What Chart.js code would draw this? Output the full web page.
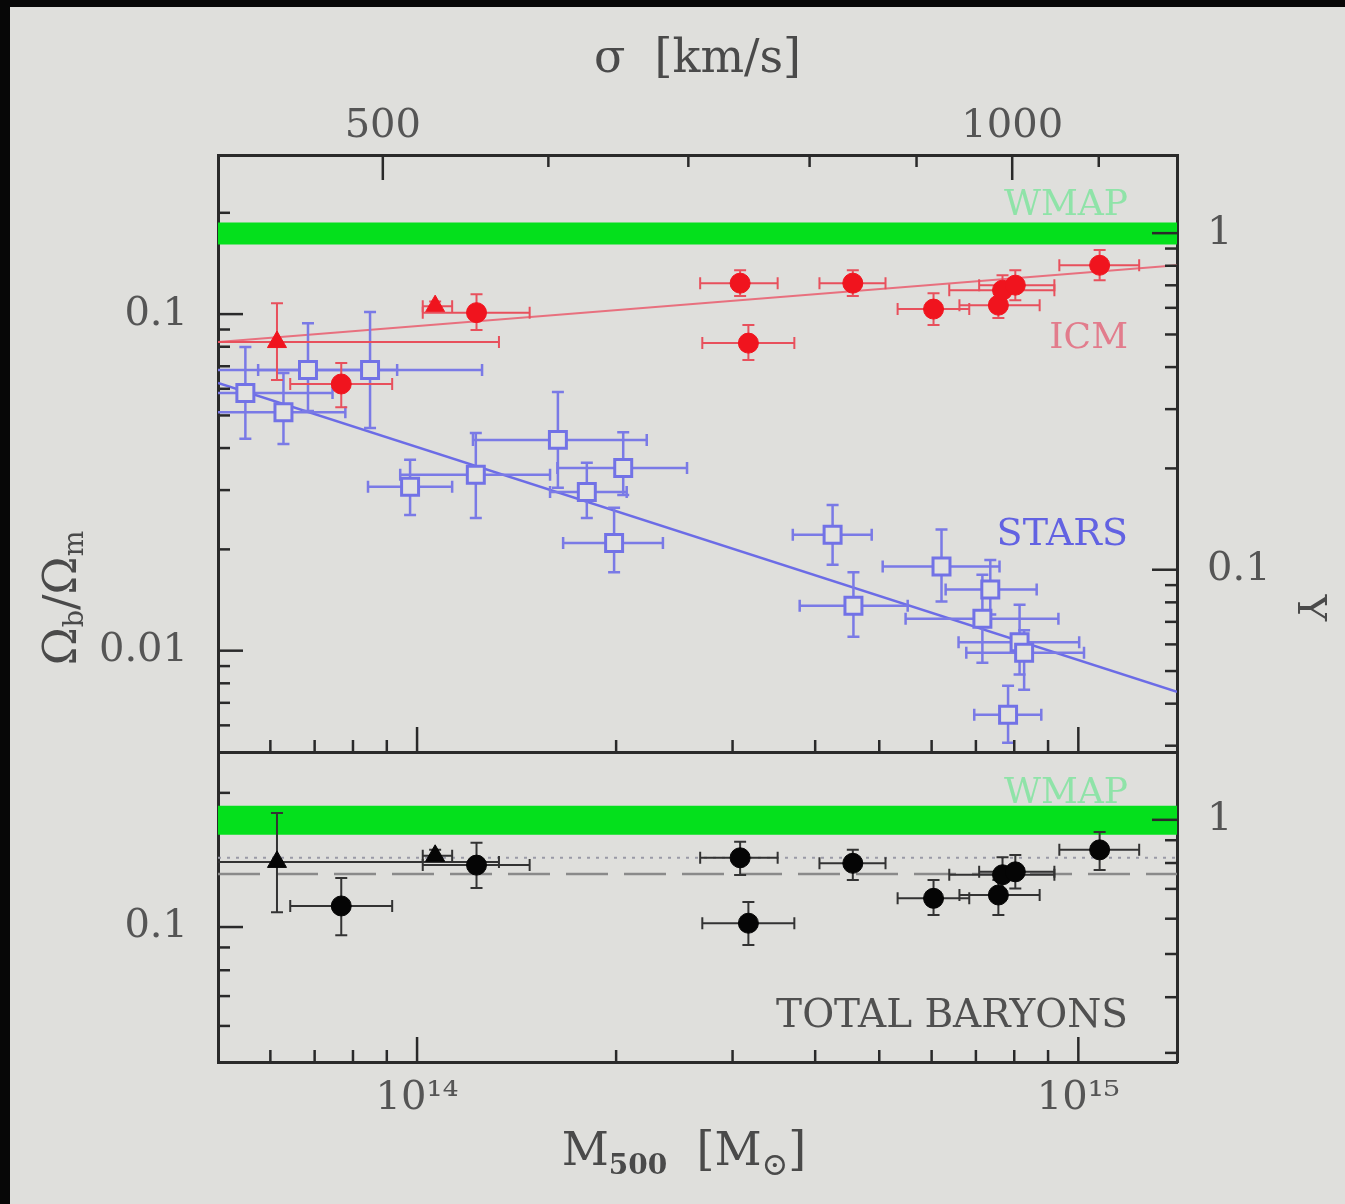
<!DOCTYPE html>
<html>
<head>
<meta charset="utf-8">
<script src="https://cdn.jsdelivr.net/npm/chart.js@4.4.1/dist/chart.umd.min.js"></script>
<style>
  html, body { margin: 0; padding: 0; }
  body { width: 1345px; height: 1204px; background: #dfdfdc; position: relative; overflow: hidden; }
  #edgeTop { position: absolute; left: 0; top: 0; width: 1345px; height: 7px; background: #070707; }
  #edgeLeft { position: absolute; left: 0; top: 0; width: 10px; height: 1204px; background: #070707; }
  canvas { position: absolute; left: 0; }
  #top { top: 0; }
  #bottom { top: 752px; }
</style>
</head>
<body>
<div id="edgeTop"></div>
<div id="edgeLeft"></div>
<canvas id="top" width="1345" height="754"></canvas>
<canvas id="bottom" width="1345" height="452"></canvas>
<script>
// --- axis ranges ---
const massRange = [5.0e13, 1.41e15];
const sigmaRange = [417, 1199];
const fracRangeTop = [0.005, 0.297];
const fracRangeBottom = [0.0498, 0.247];
const fbWmap = 0.174; // Y = (Ωb/Ωm) / fb

// --- WMAP band, fits and mean lines ---
const wmapBand = [0.161, 0.187];
const fitMass = [5.0e13, 1.41e15];
const icmFit = [0.0826, 0.1396];
const starsFit = [0.0624, 0.00755];
const totalDotted = 0.143;
const totalDashed = 0.1315;

// --- points: [M500, M low, M high, fraction, fraction low, fraction high] ---
const icmCircles = [
  [7.68e13, 6.43e13, 9.17e13, 0.062, 0.0529, 0.0716],
  [1.23e14, 1.02e14, 1.48e14, 0.101, 0.0897, 0.1146],
  [3.08e14, 2.68e14, 3.51e14, 0.1236, 0.1131, 0.1351],
  [3.17e14, 2.70e14, 3.72e14, 0.082, 0.073, 0.0928],
  [4.56e14, 4.06e14, 5.11e14, 0.1236, 0.1131, 0.1351],
  [6.04e14, 5.33e14, 6.84e14, 0.1035, 0.0928, 0.1154],
  [7.57e14, 6.61e14, 8.74e14, 0.1063, 0.0973, 0.1178],
  [7.68e14, 6.38e14, 9.20e14, 0.1178, 0.1063, 0.1305],
  [8.03e14, 7.08e14, 9.20e14, 0.1219, 0.110, 0.135],
  [1.077e15, 9.36e14, 1.236e15, 0.1397, 0.126, 0.155]
];
const icmTriangles = [
  [6.14e13, 4.5e13, 1.33e14, 0.0826, 0.0637, 0.1078],
  [1.065e14, 1.02e14, 1.13e14, 0.1056, 0.102, 0.109]
];
const stars = [
  [5.50e13, 4.5e13, 7.45e13, 0.0583, 0.0426, 0.0798],
  [6.28e13, 4.5e13, 7.79e13, 0.0511, 0.0411, 0.0668],
  [6.84e13, 4.5e13, 9.33e13, 0.0682, 0.0515, 0.094],
  [8.49e13, 5.75e13, 1.254e14, 0.0682, 0.0459, 0.1014],
  [9.76e13, 8.43e13, 1.13e14, 0.0307, 0.0253, 0.0369],
  [1.227e14, 9.43e13, 1.589e14, 0.0333, 0.0248, 0.0443],
  [1.633e14, 1.215e14, 2.225e14, 0.0423, 0.0305, 0.0587],
  [1.806e14, 1.589e14, 2.075e14, 0.0296, 0.0248, 0.0362],
  [2.05e14, 1.63e14, 2.56e14, 0.0349, 0.029, 0.0446],
  [1.986e14, 1.663e14, 2.354e14, 0.0209, 0.0171, 0.0266],
  [4.25e14, 3.70e14, 4.87e14, 0.0221, 0.018, 0.0271],
  [6.21e14, 5.06e14, 7.60e14, 0.0178, 0.014, 0.0229],
  [4.57e14, 3.79e14, 5.52e14, 0.0136, 0.011, 0.0171],
  [7.36e14, 6.30e14, 8.65e14, 0.0152, 0.0128, 0.0186],
  [7.16e14, 5.48e14, 9.33e14, 0.01245, 0.0092, 0.0168],
  [8.15e14, 6.59e14, 1.003e15, 0.0106, 0.0085, 0.0137],
  [8.28e14, 6.77e14, 1.02e15, 0.00986, 0.00766, 0.0115],
  [7.83e14, 6.96e14, 8.79e14, 0.00645, 0.00533, 0.00787]
];
const totalCircles = [
  [7.68e13, 6.43e13, 9.17e13, 0.1115, 0.0959, 0.1288],
  [1.23e14, 1.02e14, 1.48e14, 0.1377, 0.1224, 0.1545],
  [3.08e14, 2.68e14, 3.51e14, 0.143, 0.1309, 0.1553],
  [3.17e14, 2.70e14, 3.72e14, 0.102, 0.0911, 0.1138],
  [4.56e14, 4.06e14, 5.11e14, 0.139, 0.1275, 0.149],
  [6.04e14, 5.33e14, 6.84e14, 0.116, 0.1064, 0.1275],
  [7.57e14, 6.61e14, 8.74e14, 0.118, 0.1064, 0.1275],
  [7.68e14, 6.38e14, 9.20e14, 0.131, 0.118, 0.1434],
  [8.03e14, 7.08e14, 9.20e14, 0.133, 0.122, 0.145],
  [1.077e15, 9.36e14, 1.236e15, 0.149, 0.1343, 0.1634]
];
const totalTriangles = [
  [6.14e13, 4.5e13, 1.33e14, 0.140, 0.108, 0.1803],
  [1.065e14, 1.02e14, 1.13e14, 0.1445, 0.140, 0.149]
];

// --- ticks and their labels ---
const massTicks = [6e13, 7e13, 8e13, 9e13, 1e14, 2e14, 3e14, 4e14, 5e14, 6e14, 7e14, 8e14, 9e14, 1e15];
const massLabels = [[1e14, '10¹⁴'], [1e15, '10¹⁵']];
const sigmaTicks = [500, 600, 700, 800, 900, 1000, 1100];
const sigmaLabels = [[500, '500'], [1000, '1000']];
const fracTicksTop = [0.006, 0.007, 0.008, 0.009, 0.01, 0.02, 0.03, 0.04, 0.05, 0.06, 0.07, 0.08, 0.09, 0.1, 0.2];
const fracLabelsTop = [[0.1, '0.1'], [0.01, '0.01']];
const yTicksTop = [0.03, 0.04, 0.05, 0.06, 0.07, 0.08, 0.09, 0.1, 0.2, 0.3, 0.4, 0.5, 0.6, 0.7, 0.8, 0.9, 1];
const yLabelsTop = [[1, '1'], [0.1, '0.1']];
const fracTicksBottom = [0.06, 0.07, 0.08, 0.09, 0.1, 0.2];
const fracLabelsBottom = [[0.1, '0.1']];
const yTicksBottom = [0.3, 0.4, 0.5, 0.6, 0.7, 0.8, 0.9, 1];
const yLabelsBottom = [[1, '1']];

const TXT = '"DejaVu Serif", serif';
const frame = { display: true, width: 3, color: '#2a2a2a' };

function logAxis(position, range, ticks, labels, size, pad, show) {
  const horiz = position === 'top' || position === 'bottom';
  const names = new Map(labels);
  return {
    type: 'logarithmic',
    position: position,
    min: range[0],
    max: range[1],
    grid: { display: false, drawTicks: false },
    border: frame,
    afterBuildTicks: s => {
      s.ticks = ticks.map(v => ({ value: v, inMajor: names.has(v) }));
    },
    afterFit: s => {
      if (horiz) s.height = size; else s.width = size;
      s.paddingLeft = s.paddingRight = s.paddingTop = s.paddingBottom = 0;
    },
    ticks: {
      display: show,
      autoSkip: false,
      maxRotation: 0,
      minRotation: 0,
      padding: pad,
      color: '#555',
      font: { family: TXT, size: 40, lineHeight: 1 },
      callback: v => names.has(v) ? names.get(v) : ''
    }
  };
}

function pointSet(rows, style, radius, fill, stroke, errColor, errWidth, bw) {
  return {
    data: rows.map(r => ({ x: r[0], y: r[3] })),
    errors: rows,
    errColor: errColor,
    errWidth: errWidth,
    pointStyle: style,
    pointRadius: radius,
    pointBackgroundColor: fill,
    pointBorderColor: stroke,
    pointBorderWidth: bw,
    showLine: false
  };
}

function lineSet(xs, ys, color, width, dash) {
  return {
    data: xs.map((x, i) => ({ x: x, y: ys[i] })),
    showLine: true,
    pointRadius: 0,
    borderColor: color,
    borderWidth: width,
    borderDash: dash || [],
    fill: false
  };
}

function bandEdge(value, fill) {
  return {
    data: [{ x: massRange[0], y: value }, { x: massRange[1], y: value }],
    showLine: true,
    pointRadius: 0,
    borderWidth: 0,
    borderColor: 'rgba(0,0,0,0)',
    backgroundColor: '#04e01c',
    fill: fill
  };
}

// error bars drawn just under each point set
const errorBars = {
  id: 'errorBars',
  beforeDatasetDraw(chart, args) {
    const ds = chart.data.datasets[args.index];
    if (!ds.errors) return;
    const xs = args.meta.xScale, ys = args.meta.yScale;
    const a = chart.chartArea;
    const ctx = chart.ctx;
    const cap = 6;
    ctx.save();
    ctx.beginPath();
    ctx.rect(a.left, a.top, a.right - a.left, a.bottom - a.top);
    ctx.clip();
    ctx.strokeStyle = ds.errColor;
    ctx.lineWidth = ds.errWidth;
    ds.errors.forEach(r => {
      const px = xs.getPixelForValue(r[0]);
      const x0 = xs.getPixelForValue(r[1]);
      const x1 = xs.getPixelForValue(r[2]);
      const py = ys.getPixelForValue(r[3]);
      const y0 = ys.getPixelForValue(r[4]);
      const y1 = ys.getPixelForValue(r[5]);
      ctx.beginPath();
      ctx.moveTo(x0, py); ctx.lineTo(x1, py);
      ctx.moveTo(x0, py - cap); ctx.lineTo(x0, py + cap);
      ctx.moveTo(x1, py - cap); ctx.lineTo(x1, py + cap);
      ctx.moveTo(px, y0); ctx.lineTo(px, y1);
      ctx.moveTo(px - cap, y0); ctx.lineTo(px + cap, y0);
      ctx.moveTo(px - cap, y1); ctx.lineTo(px + cap, y1);
      ctx.stroke();
    });
    ctx.restore();
  }
};

// tick marks pointing into the plot
const inTicks = {
  id: 'inTicks',
  afterDatasetsDraw(chart) {
    const { ctx, chartArea: a } = chart;
    ctx.save();
    ctx.strokeStyle = '#2a2a2a';
    ctx.lineWidth = 2.5;
    Object.values(chart.scales).forEach(s => {
      s.ticks.forEach(t => {
        const len = t.inMajor ? 25 : 12;
        const p = s.getPixelForValue(t.value);
        ctx.beginPath();
        if (s.position === 'left') { ctx.moveTo(a.left, p); ctx.lineTo(a.left + len, p); }
        else if (s.position === 'right') { ctx.moveTo(a.right, p); ctx.lineTo(a.right - len, p); }
        else if (s.position === 'top') { ctx.moveTo(p, a.top); ctx.lineTo(p, a.top + len); }
        else { ctx.moveTo(p, a.bottom); ctx.lineTo(p, a.bottom - len); }
        ctx.stroke();
      });
    });
    ctx.restore();
  }
};

// text with sub/superscripts: parts are [text, size, dy, weight]
function richText(ctx, parts, x, y, angle, color) {
  ctx.save();
  ctx.translate(x, y);
  ctx.rotate(angle);
  ctx.fillStyle = color;
  ctx.textBaseline = 'middle';
  ctx.textAlign = 'left';
  let w = 0;
  parts.forEach(p => {
    ctx.font = `${p[3] || 'normal'} ${p[1]}px ${TXT}`;
    w += ctx.measureText(p[0]).width;
  });
  let cx = -w / 2;
  parts.forEach(p => {
    ctx.font = `${p[3] || 'normal'} ${p[1]}px ${TXT}`;
    ctx.fillText(p[0], cx, p[2]);
    cx += ctx.measureText(p[0]).width;
  });
  ctx.restore();
}

function label(ctx, text, x, y, size, color) {
  ctx.save();
  ctx.font = `${size}px ${TXT}`;
  ctx.fillStyle = color;
  ctx.textAlign = 'right';
  ctx.textBaseline = 'alphabetic';
  ctx.fillText(text, x, y);
  ctx.restore();
}

const topText = {
  id: 'topText',
  afterDraw(chart) {
    const { ctx, chartArea: a, scales } = chart;
    const xr = a.right - 49;
    label(ctx, 'WMAP', xr, scales.y.getPixelForValue(0.197), 36, '#8fe3a8');
    label(ctx, 'ICM', xr, scales.y.getPixelForValue(0.0792), 36, '#e27c8c');
    label(ctx, 'STARS', xr, scales.y.getPixelForValue(0.0206), 38, '#6262e2');
    richText(ctx, [['Ω', 46, 0], ['b', 27, 12], ['/', 46, 0], ['Ω', 46, 0], ['m', 27, 12]], 64, 598, -Math.PI / 2, '#4a4a4a');
    richText(ctx, [['Y', 40, 0]], 1308, 608, Math.PI / 2, '#4a4a4a');
  }
};

const bottomText = {
  id: 'bottomText',
  afterDraw(chart) {
    const { ctx, chartArea: a, scales } = chart;
    const xr = a.right - 49;
    label(ctx, 'WMAP', xr, scales.y.getPixelForValue(0.190), 36, '#8fe3a8');
    label(ctx, 'TOTAL BARYONS', xr, scales.y.getPixelForValue(0.0596), 39, '#505050');
    richText(ctx, [['M', 46, 0], ['500', 28, 14, 'bold'], ['  [M', 46, 0], ['⊙', 32, 14], [']', 46, 0]], 684, 401, 0, '#4a4a4a');
  }
};

const common = {
  responsive: false,
  devicePixelRatio: 1,
  animation: false,
  events: [],
  layout: { padding: 0, autoPadding: false },
  plugins: { legend: { display: false }, tooltip: { enabled: false } }
};

// --- upper panel: ICM and stars ---
const sigmaAxis = logAxis('top', sigmaRange, sigmaTicks, sigmaLabels, 155, 8, true);
sigmaAxis.title = {
  display: true,
  text: 'σ  [km/s]',
  color: '#4a4a4a',
  font: { family: TXT, size: 46, lineHeight: 1 },
  padding: { top: 37, bottom: 0 }
};

new Chart(document.getElementById('top'), {
  type: 'scatter',
  data: {
    datasets: [
      pointSet(icmCircles, 'circle', 10, '#f0141e', '#f0141e', '#e8505c', 2, 1),
      pointSet(icmTriangles, 'triangle', 11, '#f0141e', '#f0141e', '#e8505c', 2, 1),
      pointSet(stars, 'rect', 12, '#e2e2e0', '#7272e6', '#7a7ae6', 2.5, 3),
      lineSet(fitMass, icmFit, '#e8707e', 2),
      lineSet(fitMass, starsFit, '#6c6ce6', 2.5),
      bandEdge(wmapBand[1], false),
      bandEdge(wmapBand[0], '-1')
    ]
  },
  options: Object.assign({}, common, {
    scales: {
      x: logAxis('bottom', massRange, massTicks, massLabels, 2, 0, false),
      xTop: sigmaAxis,
      y: logAxis('left', fracRangeTop, fracTicksTop, fracLabelsTop, 218, 30, true),
      yR: logAxis('right', [fracRangeTop[0] / fbWmap, fracRangeTop[1] / fbWmap], yTicksTop, yLabelsTop, 168, 30, true)
    }
  }),
  plugins: [errorBars, inTicks, topText]
});

// --- lower panel: total baryons ---
new Chart(document.getElementById('bottom'), {
  type: 'scatter',
  data: {
    datasets: [
      pointSet(totalCircles, 'circle', 10, '#050505', '#050505', '#333333', 2, 1),
      pointSet(totalTriangles, 'triangle', 11, '#050505', '#050505', '#333333', 2, 1),
      lineSet(fitMass, [totalDotted, totalDotted], '#9a9aa6', 2, [3, 6]),
      lineSet(fitMass, [totalDashed, totalDashed], '#8a8a8a', 2.5, [42, 16]),
      bandEdge(wmapBand[1], false),
      bandEdge(wmapBand[0], '-1')
    ]
  },
  options: Object.assign({}, common, {
    scales: {
      x: logAxis('bottom', massRange, massTicks, massLabels, 142, 17, true),
      y: logAxis('left', fracRangeBottom, fracTicksBottom, fracLabelsBottom, 218, 30, true),
      yR: logAxis('right', [fracRangeBottom[0] / fbWmap, fracRangeBottom[1] / fbWmap], yTicksBottom, yLabelsBottom, 168, 30, true)
    }
  }),
  plugins: [errorBars, inTicks, bottomText]
});
</script>
</body>
</html>
